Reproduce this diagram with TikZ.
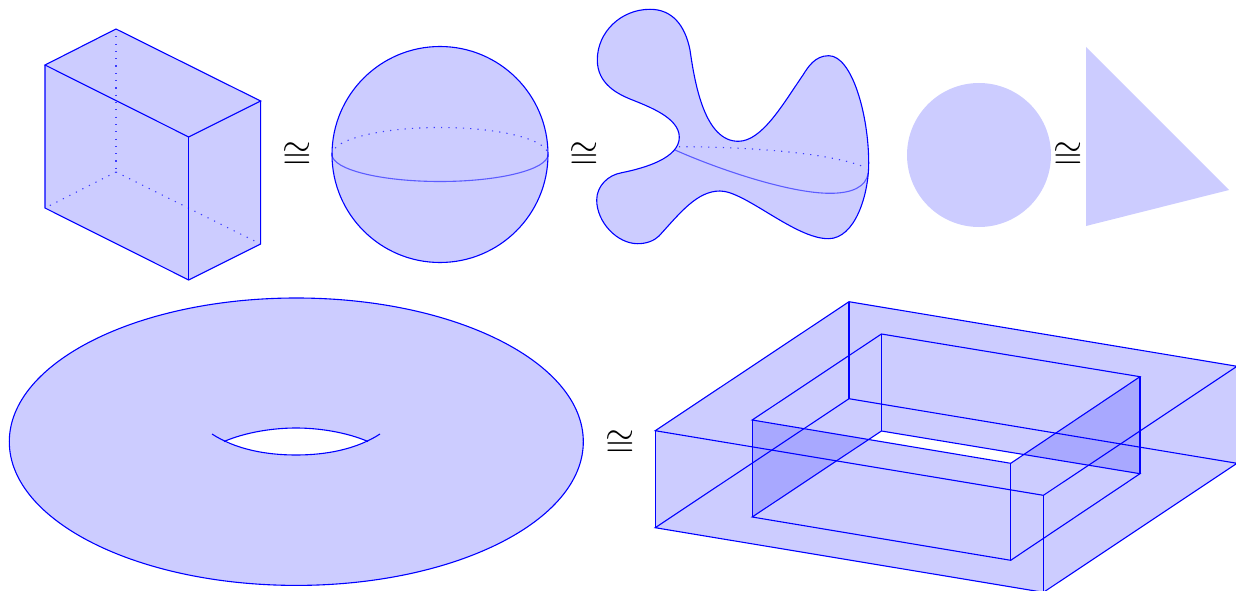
\documentclass[tikz,border=0pt]{standalone}
\begin{document}
\begin{tikzpicture}[x=1pt,y=-1pt,
  line width=1.1pt,
  edge/.style={draw=blue,line join=miter},
  body/.style={fill=lav,draw=none},
  back/.style={draw=blue,draw opacity=.7,dash pattern=on 1.2pt off 6.1pt},
  seam/.style={draw=blue,draw opacity=.55},
  rel/.style={scale=3.75,inner sep=0pt,text=black}]
\definecolor{lav}{HTML}{CCCCFF}
\definecolor{lavdark}{HTML}{A8A8FF}
\useasboundingbox (0,0) rectangle (1236,591);
\clip (0,0) rectangle (1236,591);
% box
\coordinate (p1) at (45,65); \coordinate (p2) at (116,29); \coordinate (p3) at (260.6,101); \coordinate (p4) at (188.7,137);
\coordinate (q1) at (45,208); \coordinate (q2) at (116,172); \coordinate (q3) at (260.6,244); \coordinate (q4) at (188.7,280);
\path[body] (p1)--(p2)--(p3)--(q3)--(q4)--(q1)--cycle;
\draw[back] (p2)--(q2); \draw[back] (q2)--(q1); \draw[back] (q2)--(q3);
\draw[edge] (p1)--(p2)--(p3)--(p4)--cycle;
\draw[edge] (p1)--(q1)--(q4)--(q3)--(p3);
\draw[edge] (p4)--(q4);
\node[rel] (r1) at (297,156) {$\cong$};
% sphere
\coordinate (sc) at (440,154.5);
\path[body] (sc) circle [radius=108];
\draw[back] (332,154.5) arc [start angle=180,end angle=360,x radius=108,y radius=27];
\draw[seam] (332,154.5) arc [start angle=180,end angle=0,x radius=108,y radius=27];
\draw[edge] (sc) circle [radius=108];
\node[rel] (r2) at (584,156) {$\cong$};
% blob
\path[fill=lav,draw=blue]
 (650,9.3) .. controls (621,9.3) and (597.3,32) .. (597.3,60)
 .. controls (597.3,84) and (618,94) .. (630,99)
 .. controls (650,107) and (679.3,118) .. (679.3,137.3)
 .. controls (679.3,158) and (645,168) .. (621.7,172.7)
 .. controls (608,175) and (596.7,186) .. (596.7,200)
 .. controls (596.7,222) and (617,243.7) .. (637.7,243.7)
 .. controls (646,243.7) and (654,241) .. (659,236)
 .. controls (680,213) and (697,191) .. (720,191)
 .. controls (745,191) and (795,238.7) .. (828.3,238.7)
 .. controls (855,238.7) and (868.7,195) .. (868.7,163)
 .. controls (868.7,115) and (852,55.7) .. (828.7,55.7)
 .. controls (815,55.7) and (808,67) .. (803,75)
 .. controls (783,104) and (762,141.3) .. (738.3,141.3)
 .. controls (705,141.3) and (695,85) .. (690,50)
 .. controls (685,25) and (672,9.3) .. (650,9.3) -- cycle;
\draw[seam] (675,150) .. controls (720,170) and (790,193.3) .. (830,193.3)
 .. controls (852,193.3) and (866,187) .. (868.3,173);
\draw[back] (679,146.7) .. controls (740,146.7) and (830,152) .. (866,167.7);
% disc and triangle
\path[body] (979,155) circle [radius=72];
\node[rel] (r3) at (1068,156) {$\cong$};
\path[body] (1086,47)--(1229,190)--(1086,226)--cycle;
% torus
\path[fill=lav,draw=blue] (296.3,441.7) ellipse [x radius=287,y radius=143.7];
\path[fill=white] (224,441.5) .. controls (245,432.5) and (272,428) .. (296,428)
 .. controls (320,428) and (347,432.5) .. (368,441.5)
 .. controls (347,451) and (320,455) .. (296,455)
 .. controls (272,455) and (245,451) .. (224,441.5) -- cycle;
\draw[edge] (224,441.5) .. controls (245,432.5) and (272,428) .. (296,428)
 .. controls (320,428) and (347,432.5) .. (368,441.5);
\draw[edge] (212,434) .. controls (235,449) and (265,455) .. (296,455)
 .. controls (327,455) and (357,449) .. (380,434);
\node[rel] (r4) at (620,444) {$\cong$};
% block
\coordinate (a) at (655.2,430.7); \coordinate (b) at (849,301.7); \coordinate (d) at (1237,366.3); \coordinate (c) at (1043.4,495.3);
\coordinate (a1) at (655.2,527.7); \coordinate (b1) at (849,398.7); \coordinate (d1) at (1237,463.3); \coordinate (c1) at (1043.4,592.3);
\coordinate (e) at (752.2,420); \coordinate (f) at (881.4,334); \coordinate (g) at (1140,376.7); \coordinate (h) at (1010.7,463.3);
\coordinate (e1) at (752.2,517); \coordinate (f1) at (881.4,431); \coordinate (g1) at (1140,473.7); \coordinate (h1) at (1010.7,560.3);
\coordinate (x) at (intersection of e--h and e1--f1);
\coordinate (y) at (intersection of g--h and f1--g1);
\path[body] (a)--(b)--(d)--(d1)--(c1)--(a1)--cycle;
\path[fill=lavdark] (e)--(x)--(e1)--cycle;
\path[fill=lavdark] (g)--(y)--(g1)--cycle;
\path[fill=white] (f1)--(y)--(h)--(x)--cycle;
\draw[edge] (a)--(b)--(d)--(c)--cycle;
\draw[edge] (a)--(a1); \draw[edge] (b)--(b1); \draw[edge] (c)--(c1);
\draw[edge] (a1)--(c1)--(d1)--(b1)--cycle;
\draw[edge] (e)--(f)--(g)--(h)--cycle;
\draw[edge] (e)--(e1); \draw[edge] (f)--(f1); \draw[edge] (g)--(g1); \draw[edge] (h)--(h1);
\draw[edge] (e1)--(h1)--(g1)--(f1)--cycle;
\end{tikzpicture}
\end{document}
